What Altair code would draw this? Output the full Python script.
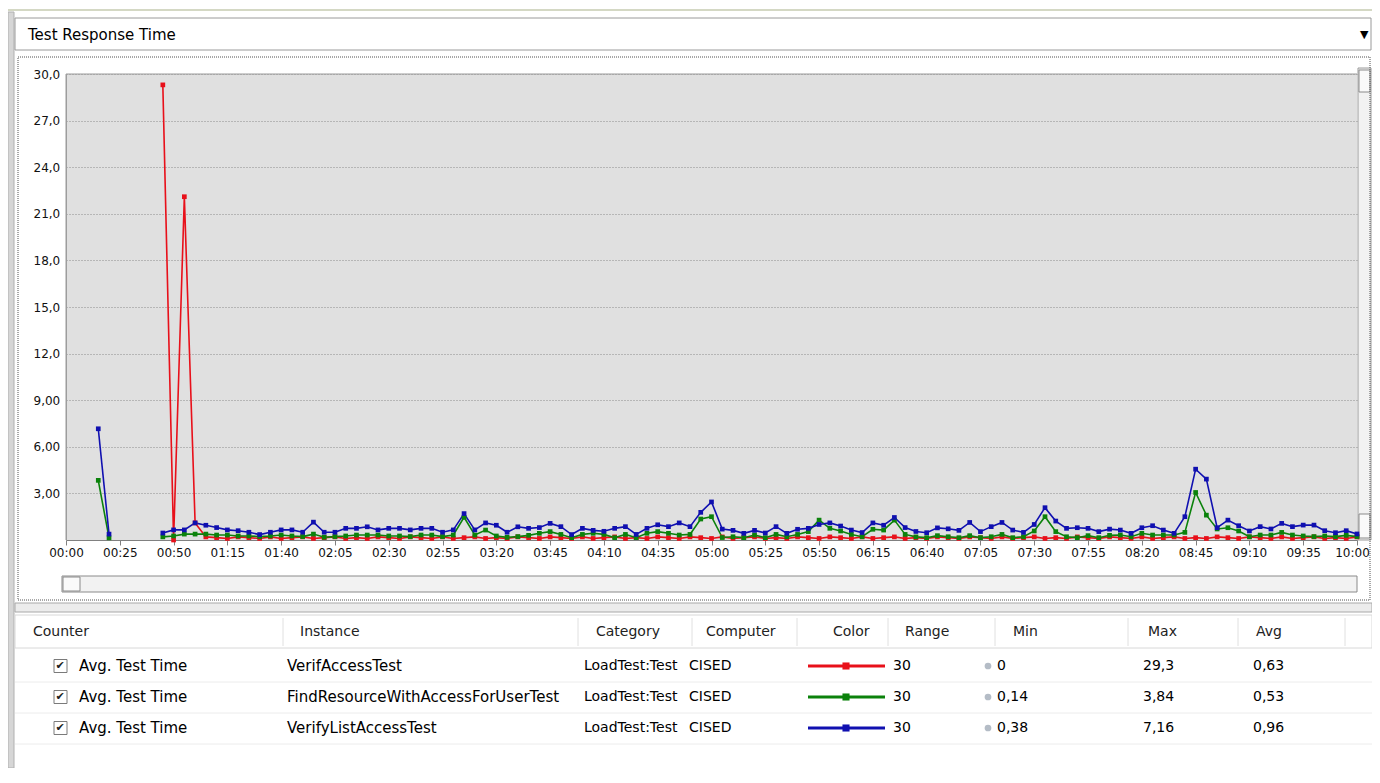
import altair as alt
import pandas as pd

# ---------------- data ----------------
panel_title = "Test Response Time"
series_names = ["VerifAccessTest", "FindResourceWithAccessForUserTest", "VerifyListAccessTest"]

early_times = [15, 20]
green_early = [3.84, 0.14]
blue_early = [7.16, 0.38]

main_times = list(range(45, 601, 5))
red_main = [29.3, 0.0, 22.1, 1.1,
            0.2, 0.15, 0.1, 0.2, 0.15, 0.1, 0.2, 0.1, 0.15, 0.2,
            0.1, 0.15, 0.2, 0.1, 0.15, 0.1, 0.2, 0.15, 0.1, 0.2,
            0.15, 0.1, 0.2, 0.1, 0.15, 0.2, 0.1, 0.15, 0.1, 0.2,
            0.15, 0.1, 0.2, 0.15, 0.1, 0.2, 0.1, 0.15, 0.2, 0.1,
            0.15, 0.1, 0.2, 0.15, 0.1, 0.2, 0.15, 0.1, 0.2, 0.1,
            0.15, 0.2, 0.1, 0.15, 0.1, 0.2, 0.15, 0.1, 0.2, 0.15,
            0.1, 0.2, 0.1, 0.15, 0.2, 0.1, 0.15, 0.1, 0.2, 0.15,
            0.1, 0.2, 0.15, 0.1, 0.2, 0.1, 0.15, 0.2, 0.1, 0.15,
            0.1, 0.2, 0.15, 0.1, 0.2, 0.15, 0.1, 0.2, 0.1, 0.15,
            0.2, 0.1, 0.15, 0.1, 0.2, 0.15, 0.1, 0.2, 0.15, 0.1,
            0.2, 0.1, 0.15, 0.2, 0.1, 0.15, 0.1, 0.2]
green_main = [0.2, 0.26, 0.38, 0.38, 0.38, 0.32, 0.32, 0.26, 0.26, 0.22,
              0.26, 0.32, 0.26, 0.22, 0.38, 0.18, 0.22, 0.26, 0.32, 0.32,
              0.32, 0.26, 0.26, 0.22, 0.32, 0.32, 0.22, 0.32, 1.46, 0.32,
              0.64, 0.26, 0.17, 0.22, 0.3, 0.43, 0.54, 0.36, 0.15, 0.36,
              0.43, 0.36, 0.15, 0.36, 0.15, 0.43, 0.54, 0.43, 0.32, 0.36,
              1.35, 1.5, 0.16, 0.21, 0.15, 0.32, 0.15, 0.36, 0.21, 0.36,
              0.54, 1.28, 0.75, 0.58, 0.36, 0.21, 0.69, 0.64, 1.28, 0.36,
              0.2, 0.15, 0.28, 0.21, 0.15, 0.28, 0.15, 0.21, 0.36, 0.15,
              0.21, 0.58, 1.5, 0.54, 0.21, 0.15, 0.28, 0.15, 0.3, 0.32,
              0.21, 0.43, 0.32, 0.32, 0.32, 0.49, 3.06, 1.6, 0.71, 0.79,
              0.58, 0.21, 0.32, 0.32, 0.49, 0.32, 0.26, 0.22, 0.26, 0.22,
              0.3, 0.22]
blue_main = [0.45, 0.65, 0.65, 1.1, 0.95, 0.8, 0.65, 0.6, 0.5, 0.35,
             0.5, 0.65, 0.65, 0.5, 1.15, 0.5, 0.5, 0.75, 0.75, 0.85,
             0.65, 0.75, 0.75, 0.65, 0.75, 0.75, 0.5, 0.65, 1.7, 0.65,
             1.1, 0.95, 0.5, 0.85, 0.75, 0.8, 1.07, 0.86, 0.35, 0.75,
             0.62, 0.56, 0.75, 0.86, 0.36, 0.75, 0.98, 0.86, 1.1, 0.86,
             1.78, 2.45, 0.7, 0.62, 0.43, 0.62, 0.45, 0.86, 0.43, 0.69,
             0.75, 1.0, 1.1, 0.9, 0.64, 0.48, 1.1, 0.95, 1.45, 0.8,
             0.55, 0.47, 0.78, 0.72, 0.62, 1.13, 0.54, 0.86, 1.13, 0.64,
             0.49, 1.0, 2.08, 1.22, 0.75, 0.79, 0.75, 0.54, 0.7, 0.64,
             0.43, 0.79, 0.92, 0.64, 0.43, 1.5, 4.56, 3.92, 0.79, 1.28,
             0.92, 0.58, 0.86, 0.71, 1.07, 0.86, 0.96, 0.96, 0.6, 0.47,
             0.6, 0.39]

x_tick_values = list(range(0, 601, 25))
x_tick_labels = ["00:00", "00:25", "00:50", "01:15", "01:40", "02:05", "02:30", "02:55",
                 "03:20", "03:45", "04:10", "04:35", "05:00", "05:25", "05:50", "06:15",
                 "06:40", "07:05", "07:30", "07:55", "08:20", "08:45", "09:10", "09:35", "10:00"]
y_tick_values = [0, 3, 6, 9, 12, 15, 18, 21, 24, 27, 30]
y_tick_labels = ["", "3,00", "6,00", "9,00", "12,0", "15,0", "18,0", "21,0", "24,0", "27,0", "30,0"]

table_header = ["Counter", "Instance", "Category", "Computer", "Color", "Range", "Min", "Max", "Avg"]
counters = ["Avg. Test Time", "Avg. Test Time", "Avg. Test Time"]
categories = ["LoadTest:Test", "LoadTest:Test", "LoadTest:Test"]
computers = ["CISED", "CISED", "CISED"]
ranges = ["30", "30", "30"]
mins = ["0", "0,14", "0,38"]
maxs = ["29,3", "3,84", "7,16"]
avgs = ["0,63", "0,53", "0,96"]

# ---------------- style / layout ----------------
FONT = "DejaVu Sans"
series_colors = ["#e8101a", "#0b820b", "#1010b0"]
PX0, PY0 = 66, 74          # page position of plot origin
W, H = 1291, 466


def rx(p):
    return p - PX0


def ry(p):
    return p - PY0


# ---------------- line data ----------------
rows = []
for t, v in zip(early_times, green_early):
    rows.append(dict(t=t, v=v, series=series_names[1], seg=0))
for t, v in zip(early_times, blue_early):
    rows.append(dict(t=t, v=v, series=series_names[2], seg=0))
for name, vals in zip(series_names, [red_main, green_main, blue_main]):
    for t, v in zip(main_times, vals):
        rows.append(dict(t=t, v=v, series=name, seg=1))
df = pd.DataFrame(rows)

x_expr = "[" + ",".join("'%s'" % s for s in x_tick_labels) + "][round(datum.value / 25)]"
y_expr = "[" + ",".join("'%s'" % s for s in y_tick_labels) + "][round(datum.value / 3)]"

xenc = alt.X("t:Q", scale=alt.Scale(domain=[0, 600], nice=False, zero=False),
             axis=alt.Axis(values=x_tick_values, labelExpr=x_expr, title=None, grid=False,
                           tickSize=5, tickColor="#808080", domainColor="#808080",
                           labelFont=FONT, labelFontSize=12, labelColor="#111",
                           labelPadding=2, labelFlush=False, labelOverlap=False,
                           labelOffset={"condition": {"test": "datum.value >= 600", "value": -5},
                                        "value": 0}))
yenc = alt.Y("v:Q", scale=alt.Scale(domain=[0, 30], nice=False),
             axis=alt.Axis(values=y_tick_values, labelExpr=y_expr, title=None, grid=True,
                           gridColor="#8c8c8c", gridDash=[1, 2], ticks=False, tickSize=0,
                           domainColor="#a0a0a0", labelAlign="left", labelPadding=33,
                           labelFont=FONT, labelFontSize=12, labelColor="#111",
                           labelOverlap=False))
cenc = alt.Color("series:N", scale=alt.Scale(domain=series_names, range=series_colors), legend=None)

lines = alt.Chart(df).mark_line(strokeWidth=1.6).encode(
    x=xenc, y=yenc, color=cenc, detail="seg:N", order="t:Q")
points = alt.Chart(df).mark_point(shape="square", filled=True, size=22, opacity=1).encode(
    x="t:Q", y="v:Q", color=cenc)

# ---------------- decorations ----------------
def R(x1, x2, y1, y2, fill, stroke):
    return dict(x=rx(x1), x2=rx(x2), y=ry(y1), y2=ry(y2), fill=fill, stroke=stroke)


rect_rows = [
    R(8, 14, 12, 768, "#d6d6d6", "#b0b0b0"),               # left splitter
    R(15, 1371, 18, 50, "#ffffff", "#9a9a9a"),             # header box
    R(1358, 1371, 68, 540, "#f2f2f2", "#9a9a9a"),          # vertical scrollbar
    R(1359, 1370, 70, 92, "#fafafa", "#8a8a8a"),
    R(1359, 1370, 514, 538, "#fafafa", "#8a8a8a"),
    R(62, 1357, 576, 592, "#f2f2f2", "#8a8a8a"),           # horizontal scrollbar
    R(63, 80, 577, 591, "#fafafa", "#8a8a8a"),
    R(15, 1372, 603, 612, "#ececec", "#a8a8a8"),           # pane splitter
    R(15, 1372, 615, 648, "#ffffff", "#d8d8d8"),           # table header
]
row_y = [666, 697, 728]
for yy in row_y:
    rect_rows.append(R(54, 67, yy - 6.5, yy + 6.5, "#ffffff", "#7a7a7a"))  # checkboxes
rect_df = pd.DataFrame(rect_rows)

rects = alt.Chart(rect_df).mark_rect(strokeWidth=1).encode(
    x=alt.X("x:Q", scale=None, axis=None), x2="x2:Q",
    y=alt.Y("y:Q", scale=None, axis=None), y2="y2:Q",
    fill=alt.Fill("fill:N", scale=None), stroke=alt.Stroke("stroke:N", scale=None))

focus_df = pd.DataFrame([R(18, 1370, 57, 600, "#ffffff", "#505050")])
focus = alt.Chart(focus_df).mark_rect(fillOpacity=0, stroke="#505050", strokeWidth=1,
                                      strokeDash=[1, 1]).encode(
    x=alt.X("x:Q", scale=None, axis=None), x2="x2:Q",
    y=alt.Y("y:Q", scale=None, axis=None), y2="y2:Q")


def L(x1, x2, y1, y2, c, w):
    return dict(x=rx(x1), x2=rx(x2), y=ry(y1), y2=ry(y2), c=c, w=w)


rule_rows = [
    L(8, 1372, 10, 10, "#d4d8c4", 2),       # top panel line
    L(66, 66, 74, 540, "#9a9a9a", 1),       # plot left border
    L(66, 1357, 74, 74, "#9a9a9a", 1),      # plot top border
]
for sx in [283, 578, 692, 797, 888, 995, 1128, 1238, 1345]:
    rule_rows.append(L(sx, sx, 618, 646, "#e0e0e0", 1))
for yy in [682, 713, 744]:
    rule_rows.append(L(15, 1372, yy, yy, "#ececec", 1))
for yy, col in zip(row_y, series_colors):
    rule_rows.append(L(808, 885, yy, yy, col, 3))
rule_df = pd.DataFrame(rule_rows)
rules = alt.Chart(rule_df).mark_rule().encode(
    x=alt.X("x:Q", scale=None, axis=None), x2="x2:Q",
    y=alt.Y("y:Q", scale=None, axis=None), y2="y2:Q",
    stroke=alt.Stroke("c:N", scale=None), strokeWidth=alt.StrokeWidth("w:Q", scale=None))

sym_rows = []
for yy, col in zip(row_y, series_colors):
    sym_rows.append(dict(x=rx(846), y=ry(yy), f=col, s=50, shape="square"))
    sym_rows.append(dict(x=rx(988), y=ry(yy), f="#b4bcc6", s=45, shape="circle"))
sym_df = pd.DataFrame(sym_rows)
syms = alt.Chart(sym_df).mark_point(filled=True, opacity=1).encode(
    x=alt.X("x:Q", scale=None, axis=None), y=alt.Y("y:Q", scale=None, axis=None),
    fill=alt.Fill("f:N", scale=None), size=alt.Size("s:Q", scale=None),
    shape=alt.Shape("shape:N", scale=None))

# texts
text_rows = [
    dict(x=rx(28), y=ry(35), text=panel_title, s=15, f="#000000"),
    dict(x=rx(1360), y=ry(35), text="\u25bc", s=11, f="#000000"),
]
hdr_x = [33, 300, 596, 706, 833, 905, 1013, 1148, 1256]
for hx, h in zip(hdr_x, table_header):
    text_rows.append(dict(x=rx(hx), y=ry(632), text=h, s=14, f="#222222"))
cell_x = [79, 287, 584, 689, 893, 997, 1143, 1253]
cell_size = [15, 15, 14, 14, 14, 14, 14, 14]
for i, yy in enumerate(row_y):
    vals = [counters[i], series_names[i], categories[i], computers[i], ranges[i],
            mins[i], maxs[i], avgs[i]]
    for cx, cs, v in zip(cell_x, cell_size, vals):
        text_rows.append(dict(x=rx(cx), y=ry(yy), text=v, s=cs, f="#000000"))
    text_rows.append(dict(x=rx(55.5), y=ry(yy), text="\u2714", s=11, f="#202020"))
text_df = pd.DataFrame(text_rows)
texts = alt.Chart(text_df).mark_text(align="left", baseline="middle", font=FONT).encode(
    x=alt.X("x:Q", scale=None, axis=None), y=alt.Y("y:Q", scale=None, axis=None),
    text="text:N", fill=alt.Fill("f:N", scale=None), size=alt.Size("s:Q", scale=None))

chart = alt.layer(rects, focus, rules, lines, points, syms, texts).properties(
    width=W, height=H,
    padding={"left": 58, "top": 66, "right": 15, "bottom": 228},
    autosize=alt.AutoSizeParams(type="none"),
    background="#ffffff",
).configure_view(fill="#e0e0e0", stroke=None)

chart.save("out.html", embed_options={"renderer": "svg", "actions": False})
